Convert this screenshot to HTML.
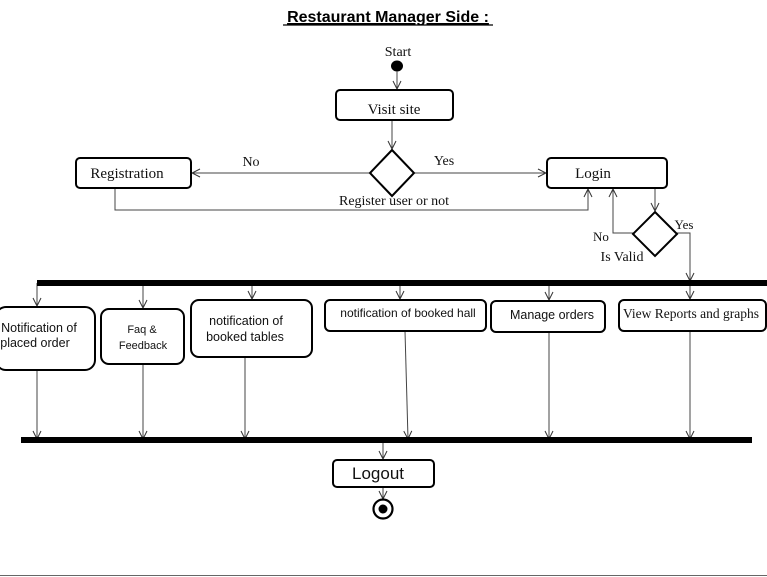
<!DOCTYPE html>
<html><head><meta charset="utf-8"><style>
html,body{margin:0;padding:0;background:#fff;}
svg{display:block;}
.s{font-family:"Liberation Serif",serif;fill:#111;}
.a{font-family:"Liberation Sans",sans-serif;fill:#111;}
</style></head><body>
<svg width="767" height="577" viewBox="0 0 767 577" xmlns="http://www.w3.org/2000/svg">
<defs><marker id="ar" markerWidth="10" markerHeight="10" refX="9" refY="5" orient="auto" markerUnits="userSpaceOnUse"><path d="M1,1 L9,5 L1,9" fill="none" stroke="#333" stroke-width="1"/></marker></defs>
<text x="388" y="22" text-anchor="middle" font-family="Liberation Sans,sans-serif" font-weight="bold" font-size="16" text-decoration="underline">Restaurant Manager Side :</text>
<line x1="283" y1="25" x2="493" y2="25" stroke="#000" stroke-width="1.2"/>
<text x="398" y="56" class="s" font-size="14" text-anchor="middle">Start</text>
<ellipse cx="397" cy="66" rx="6" ry="5.5" fill="#000"/>
<g fill="none" stroke="#444" stroke-width="1">
<line x1="397" y1="71" x2="397" y2="89" marker-end="url(#ar)"/>
<line x1="392" y1="120" x2="392" y2="149" marker-end="url(#ar)"/>
<line x1="370" y1="173" x2="192" y2="173" marker-end="url(#ar)"/>
<line x1="414" y1="173" x2="546" y2="173" marker-end="url(#ar)"/>
<polyline points="115,188 115,210 588,210 588,189" marker-end="url(#ar)"/>
<line x1="655" y1="188" x2="655" y2="211" marker-end="url(#ar)"/>
<polyline points="633,233 613,233 613,189" marker-end="url(#ar)"/>
<polyline points="677,233 690,233 690,281" marker-end="url(#ar)"/>
<line x1="37" y1="283" x2="37" y2="306" marker-end="url(#ar)"/>
<line x1="143" y1="283" x2="143" y2="308" marker-end="url(#ar)"/>
<line x1="252" y1="283" x2="252" y2="299" marker-end="url(#ar)"/>
<line x1="400" y1="283" x2="400" y2="299" marker-end="url(#ar)"/>
<line x1="549" y1="283" x2="549" y2="300" marker-end="url(#ar)"/>
<line x1="690" y1="283" x2="690" y2="299" marker-end="url(#ar)"/>
<line x1="37" y1="370" x2="37" y2="439" marker-end="url(#ar)"/>
<line x1="143" y1="364" x2="143" y2="439" marker-end="url(#ar)"/>
<line x1="245" y1="357" x2="245" y2="439" marker-end="url(#ar)"/>
<line x1="405" y1="331" x2="408" y2="439" marker-end="url(#ar)"/>
<line x1="549" y1="332" x2="549" y2="439" marker-end="url(#ar)"/>
<line x1="690" y1="332" x2="690" y2="439" marker-end="url(#ar)"/>
<line x1="383" y1="443" x2="383" y2="459" marker-end="url(#ar)"/>
<line x1="383" y1="487" x2="383" y2="499" marker-end="url(#ar)"/>
</g>
<g fill="#fff" stroke="#000" stroke-width="2">
<rect x="336" y="90" width="117" height="30" rx="4"/>
<rect x="76" y="158" width="115" height="30" rx="4"/>
<rect x="547" y="158" width="120" height="30" rx="4"/>
<polygon points="392,150 414,173 392,196 370,173"/>
<polygon points="655,212 677,234 655,256 633,234"/>
<rect x="-4" y="307" width="99" height="63" rx="10"/>
<rect x="101" y="309" width="83" height="55" rx="8"/>
<rect x="191" y="300" width="121" height="57" rx="8"/>
<rect x="325" y="300" width="161" height="31" rx="5"/>
<rect x="491" y="301" width="114" height="31" rx="5"/>
<rect x="619" y="300" width="147" height="31" rx="5"/>
<rect x="333" y="460" width="101" height="27" rx="4"/>
</g>
<rect x="37" y="280" width="730" height="6" fill="#000"/>
<rect x="21" y="437" width="731" height="6" fill="#000"/>
<text x="394" y="114" class="s" font-size="15" text-anchor="middle">Visit site</text>
<text x="127" y="178" class="s" font-size="15" text-anchor="middle">Registration</text>
<text x="593" y="178" class="s" font-size="15" text-anchor="middle">Login</text>
<text x="251" y="166" class="s" font-size="14" text-anchor="middle">No</text>
<text x="444" y="165" class="s" font-size="14" text-anchor="middle">Yes</text>
<text x="394" y="205" class="s" font-size="14" text-anchor="middle">Register user or not</text>
<text x="601" y="241" class="s" font-size="13" text-anchor="middle">No</text>
<text x="684" y="229" class="s" font-size="13" text-anchor="middle">Yes</text>
<text x="622" y="261" class="s" font-size="14" text-anchor="middle">Is Valid</text>
<text x="39" y="332" class="a" font-size="12.5" text-anchor="middle">Notification of</text>
<text x="35" y="347" class="a" font-size="12.5" text-anchor="middle">placed order</text>
<text x="142" y="333" class="a" font-size="11" text-anchor="middle">Faq &amp;</text>
<text x="143" y="349" class="a" font-size="11" text-anchor="middle">Feedback</text>
<text x="246" y="325" class="a" font-size="12.5" text-anchor="middle">notification of</text>
<text x="245" y="341" class="a" font-size="12.5" text-anchor="middle">booked tables</text>
<text x="408" y="317" class="a" font-size="12" text-anchor="middle">notification of booked hall</text>
<text x="552" y="319" class="a" font-size="12.5" text-anchor="middle">Manage orders</text>
<text x="691" y="318" class="s" font-size="13.5" text-anchor="middle">View Reports and graphs</text>
<text x="378" y="479" class="a" font-size="17" text-anchor="middle">Logout</text>
<circle cx="383" cy="509" r="9.5" fill="#fff" stroke="#000" stroke-width="2.2"/>
<circle cx="383" cy="509" r="4.5" fill="#000"/>
<line x1="0" y1="575.5" x2="767" y2="575.5" stroke="#666" stroke-width="1"/>
</svg>
</body></html>
